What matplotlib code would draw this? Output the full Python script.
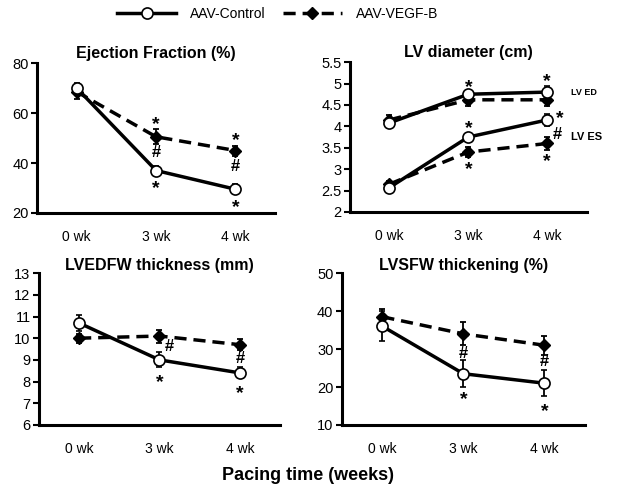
import matplotlib
matplotlib.use('Agg')
import matplotlib.pyplot as plt
from matplotlib.lines import Line2D

plt.rcParams['font.family'] = ['Liberation Sans', 'DejaVu Sans']

weeks = ['0 wk', '3 wk', '4 wk']
x = [0, 1, 2]

# Ejection fraction (%)
ef_ctrl = [70, 37, 29.5]
ef_ctrl_err = [2, 2, 2]
ef_vegf = [68.5, 50.5, 45]
ef_vegf_err = [3, 3, 2]

# LV diameter (cm)
ed_ctrl = [4.08, 4.75, 4.8]
ed_ctrl_err = [0.1, 0.1, 0.15]
ed_vegf = [4.15, 4.62, 4.62]
ed_vegf_err = [0.12, 0.15, 0.15]
es_ctrl = [2.57, 3.75, 4.15]
es_ctrl_err = [0.07, 0.1, 0.15]
es_vegf = [2.65, 3.4, 3.6]
es_vegf_err = [0.08, 0.12, 0.15]

# LVEDFW thickness (mm)
fw_ctrl = [10.7, 9.0, 8.4]
fw_ctrl_err = [0.35, 0.35, 0.25]
fw_vegf = [10.0, 10.1, 9.7]
fw_vegf_err = [0.2, 0.3, 0.25]

# LVSFW thickening (%)
sf_ctrl = [36, 23.5, 21]
sf_ctrl_err = [4, 3.5, 3.5]
sf_vegf = [38.5, 34, 31]
sf_vegf_err = [2, 3, 2.5]

fig = plt.figure(figsize=(6.17, 4.93), dpi=100)
ax1 = fig.add_axes([0.060, 0.568, 0.386, 0.304])
ax2 = fig.add_axes([0.567, 0.570, 0.384, 0.304])
ax3 = fig.add_axes([0.063, 0.138, 0.391, 0.308])
ax4 = fig.add_axes([0.554, 0.138, 0.394, 0.308])


def draw(ax, y, err, ctrl):
    if ctrl:
        ax.errorbar(x, y, yerr=err, color='black', lw=2.5, ls='-', marker='o',
                    ms=8, mfc='white', mec='black', mew=1.2, elinewidth=1.3,
                    capsize=2.5, capthick=1.3, zorder=3)
    else:
        ax.errorbar(x, y, yerr=err, color='black', lw=2.5, ls=(0, (3.5, 2)),
                    marker='D', ms=6, mfc='black', mec='black', elinewidth=1.3,
                    capsize=2.5, capthick=1.3, zorder=2)


def style(ax, title, ylim, yticks, ticklabels=None, pad=4):
    ax.set_xlim(-0.5, 2.5)
    ax.set_ylim(*ylim)
    ax.set_yticks(yticks)
    if ticklabels:
        ax.set_yticklabels(ticklabels)
    ax.set_xticks(x)
    ax.set_xticklabels(weeks)
    ax.tick_params(axis='x', length=0, pad=12, labelsize=10)
    ax.tick_params(axis='y', length=4, width=1.5, labelsize=10.5, pad=2)
    for s in ['top', 'right']:
        ax.spines[s].set_visible(False)
    for s in ['left', 'bottom']:
        ax.spines[s].set_linewidth(2.2)
    ax.set_title(title, fontsize=11.5, fontweight='bold', pad=pad)


def mark(ax, xi, yi, s, dx=0.0):
    # the asterisk glyph sits high in its box, so nudge it down a little
    off = -3.5 if s == '*' else 0
    size = 14 if s == '*' else 12
    ax.annotate(s, (xi + dx, yi), xytext=(0, off), textcoords='offset points',
                ha='center', va='center', fontsize=size, fontweight='bold')


# Panel 1
draw(ax1, ef_ctrl, ef_ctrl_err, True)
draw(ax1, ef_vegf, ef_vegf_err, False)
style(ax1, 'Ejection Fraction (%)', (20, 80), [20, 40, 60, 80])
mark(ax1, 1, 57.2, '*')
mark(ax1, 1, 44.4, '#')
mark(ax1, 1, 31.6, '*')
mark(ax1, 2, 50.8, '*')
mark(ax1, 2, 38.8, '#')
mark(ax1, 2, 24, '*')

# Panel 2
draw(ax2, ed_ctrl, ed_ctrl_err, True)
draw(ax2, ed_vegf, ed_vegf_err, False)
draw(ax2, es_ctrl, es_ctrl_err, True)
draw(ax2, es_vegf, es_vegf_err, False)
style(ax2, 'LV diameter (cm)', (2, 5.5), [2, 2.5, 3, 3.5, 4, 4.5, 5, 5.5],
      ['2', '2.5', '3', '3.5', '4', '4.5', '5', '5.5'])
mark(ax2, 1, 5.03, '*')
mark(ax2, 2, 5.17, '*')
mark(ax2, 1, 4.07, '*')
mark(ax2, 1, 3.1, '*')
mark(ax2, 2, 4.3, '*', dx=0.16)
mark(ax2, 2, 3.8, '#', dx=0.13)
mark(ax2, 2, 3.28, '*')
ax2.text(2.3, 4.8, 'LV ED', fontsize=6.5, fontweight='bold', va='center',
         clip_on=False)
ax2.text(2.3, 3.75, 'LV ES', fontsize=8, fontweight='bold', va='center',
         clip_on=False)

# Panel 3
draw(ax3, fw_ctrl, fw_ctrl_err, True)
draw(ax3, fw_vegf, fw_vegf_err, False)
style(ax3, 'LVEDFW thickness (mm)', (6, 13), [6, 7, 8, 9, 10, 11, 12, 13],
      pad=1)
mark(ax3, 1, 9.6, '#', dx=0.12)
mark(ax3, 1, 8.16, '*')
mark(ax3, 2, 9.08, '#')
mark(ax3, 2, 7.65, '*')

# Panel 4
draw(ax4, sf_ctrl, sf_ctrl_err, True)
draw(ax4, sf_vegf, sf_vegf_err, False)
style(ax4, 'LVSFW thickening (%)', (10, 50), [10, 20, 30, 40, 50], pad=1)
mark(ax4, 1, 28.9, '#')
mark(ax4, 1, 17.9, '*')
mark(ax4, 2, 26.6, '#')
mark(ax4, 2, 14.7, '*')

fig.text(0.5, 0.036, 'Pacing time (weeks)', ha='center', va='center',
         fontsize=13, fontweight='bold')

handles = [
    Line2D([], [], color='black', lw=2.5, marker='o', ms=8, mfc='white',
           mec='black', mew=1.2),
    Line2D([], [], color='black', lw=2.5, ls=(0, (3.5, 2)), marker='D', ms=6,
           mfc='black'),
]
fig.legend(handles, ['AAV-Control', 'AAV-VEGF-B'], loc='center',
           bbox_to_anchor=(0.45, 0.972), ncol=2, frameon=False, fontsize=10,
           handlelength=4.2, columnspacing=1.3, handletextpad=1.0)

fig.savefig('out.png', dpi=100)
